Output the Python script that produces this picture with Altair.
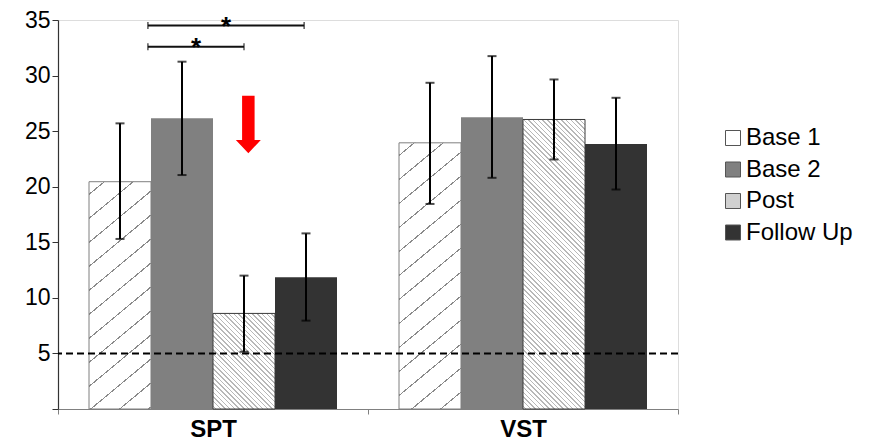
import math
import altair as alt
import pandas as pd

# ---------------- data ----------------
groups = ["SPT", "VST"]
series = ["Base 1", "Base 2", "Post", "Follow Up"]
means = {
    "SPT": [20.45, 26.15, 8.6, 11.85],
    "VST": [23.95, 26.25, 26.05, 23.85],
}
err_low = {
    "SPT": [15.3, 21.05, 5.15, 7.95],
    "VST": [18.45, 20.8, 22.45, 19.75],
}
err_high = {
    "SPT": [25.7, 31.25, 12.0, 15.8],
    "VST": [29.35, 31.75, 29.65, 28.0],
}
threshold = [5]

# significance brackets (SPT: Base 2 vs Post, Base 2 vs Follow Up)
bracket_from = [1.45, 1.45]
bracket_to = [3.0, 3.97]
bracket_level = [32.6, 34.5]
bracket_text = ["*", "*"]

# red arrow annotation
arrow_x = [3.07]
arrow_y = [25.6]

colors = ["#ffffff", "#808080", "#d0d0d0", "#333333"]

# ---------------- layout ----------------
W, H = 620, 389
Y_MAX = 35
X_MAX = 10
FONT = "Liberation Sans"
px_x = W / X_MAX
px_y = H / Y_MAX

rows = []
for gi, g in enumerate(groups):
    for si, s in enumerate(series):
        pos = gi * 5 + si + 1
        rows.append(dict(group=g, series=s, pos=pos, x0=pos - 0.5, x1=pos + 0.5,
                         mean=means[g][si], lo=err_low[g][si], hi=err_high[g][si]))
df = pd.DataFrame(rows)

xscale = alt.Scale(domain=[0, X_MAX], nice=False, zero=False)
yscale = alt.Scale(domain=[0, Y_MAX], nice=False)

label_expr = " : ".join(
    f"datum.value == {gi * 5 + 2.5} ? '{g}'" for gi, g in enumerate(groups)
) + " : ''"

x_axis = alt.Axis(
    values=[0, 2.5, 5, 7.5, 10], labelExpr=label_expr, title=None, grid=False,
    tickOpacity={"condition": {"test": "datum.value % 5 == 0", "value": 1}, "value": 0},
    tickSize=5, tickColor="#808080", domainColor="#808080", domainWidth=1.2,
    labelFontSize=24, labelFontWeight="bold", labelColor="black", labelFont=FONT,
    labelPadding=3, labelOverlap=False, labelFlush=False,
)
y_axis = alt.Axis(
    values=list(range(0, 36, 5)), labelExpr="datum.value == 0 ? '' : datum.label",
    title=None, grid=False, tickSize=6, tickColor="#333", domainColor="#333",
    domainWidth=1.2, labelFontSize=23, labelColor="black", labelFont=FONT, labelPadding=2,
)

base = alt.Chart(df)

bars = base.mark_bar().encode(
    x=alt.X("x0:Q", scale=xscale, axis=x_axis),
    x2="x1:Q",
    y=alt.Y("mean:Q", scale=yscale, axis=y_axis),
    y2=alt.datum(0),
    fill=alt.Fill(
        "series:N",
        scale=alt.Scale(domain=series, range=colors),
        sort=series,
        legend=alt.Legend(
            title=None, orient="none", legendX=663, legendY=106,
            symbolType="square", symbolSize=225, symbolStrokeColor="#555",
            symbolStrokeWidth=1, labelFontSize=24, labelFont=FONT, labelColor="black",
            labelOffset=1, rowPadding=7.5, padding=0, symbolOpacity=1,
        ),
    ),
)


def hatch(h, w, a, b, dc, thick_c, line, bg, back):
    """linear gradient drawing stripes a*x + b*y = c (back=True -> a*x - b*y = c)."""
    total = a * w + b * h
    k = total / (a * a * w * w + b * b * h * h)
    if back:
        x1, y1, x2, y2 = 0, 1, k * a * w, 1 - k * b * h
    else:
        x1, y1, x2, y2 = 0, 0, k * a * w, k * b * h
    period = dc / total
    th = thick_c / total
    stops = [{"offset": 0, "color": bg}]
    t = period * 0.5
    while t + th < 1:
        stops += [
            {"offset": round(t, 5), "color": bg},
            {"offset": round(t, 5), "color": line},
            {"offset": round(t + th, 5), "color": line},
            {"offset": round(t + th, 5), "color": bg},
        ]
        t += period
    stops.append({"offset": 1, "color": bg})
    return {"gradient": "linear", "x1": x1, "y1": y1, "x2": x2, "y2": y2, "stops": stops}


hatch_layers = []
for g in groups:
    for s, a, b, dc, thick, line, stroke, back in [
        ("Base 1", 0.83, 1.0, 24.0, 1.4, "#8a8a8a", "#7f7f7f", False),
        ("Post", 1.0, 1.0, 4.7, 1.5, "#b8b8b8", "#3a3a3a", True),
    ]:
        v = means[g][series.index(s)]
        grad = hatch(v * px_y, px_x, a, b, dc, thick, line, "#ffffff", back)
        hatch_layers.append(
            base.transform_filter(
                (alt.datum.group == g) & (alt.datum.series == s)
            ).mark_bar(fill=grad, stroke=stroke, strokeWidth=1).encode(
                x=alt.X("x0:Q", scale=xscale), x2="x1:Q",
                y=alt.Y("mean:Q", scale=yscale), y2=alt.datum(0),
            )
        )

dash = alt.Chart(pd.DataFrame({"y": threshold})).mark_rule(
    color="black", strokeWidth=2, strokeDash=[7, 4]
).encode(y=alt.Y("y:Q", scale=yscale))

err_rule = base.mark_rule(color="black", strokeWidth=2).encode(
    x=alt.X("pos:Q", scale=xscale), y=alt.Y("lo:Q", scale=yscale), y2="hi:Q"
)
err_cap_hi = base.mark_tick(color="black", orient="horizontal", size=9, thickness=2).encode(
    x=alt.X("pos:Q", scale=xscale), y=alt.Y("hi:Q", scale=yscale)
)
err_cap_lo = base.mark_tick(color="black", orient="horizontal", size=9, thickness=2).encode(
    x=alt.X("pos:Q", scale=xscale), y=alt.Y("lo:Q", scale=yscale)
)

br_df = pd.DataFrame({"x0": bracket_from, "x1": bracket_to, "y": bracket_level, "t": bracket_text})
br_df["mid"] = (br_df["x0"] + br_df["x1"]) / 2
br_ends = pd.DataFrame({
    "x": bracket_from + bracket_to,
    "y": bracket_level + bracket_level,
})
br_line = alt.Chart(br_df).mark_rule(color="#111", strokeWidth=2).encode(
    x=alt.X("x0:Q", scale=xscale), x2="x1:Q", y=alt.Y("y:Q", scale=yscale)
)
br_caps = alt.Chart(br_ends).mark_tick(color="#111", orient="vertical", size=7, thickness=1.5).encode(
    x=alt.X("x:Q", scale=xscale), y=alt.Y("y:Q", scale=yscale)
)
br_star = alt.Chart(br_df).mark_text(
    fontSize=26, fontWeight="bold", font=FONT, color="black", baseline="alphabetic", dy=9
).encode(x=alt.X("mid:Q", scale=xscale), y=alt.Y("y:Q", scale=yscale), text="t:N")

arrow_path = "M-0.5,-2.3L0.5,-2.3L0.5,1.24L1,1.24L0,2.3L-1,1.24L-0.5,1.24Z"
arrow = alt.Chart(pd.DataFrame({"x": arrow_x, "y": arrow_y})).mark_point(
    shape=arrow_path, size=625, filled=True, color="#ff0000", opacity=1, strokeWidth=0
).encode(x=alt.X("x:Q", scale=xscale), y=alt.Y("y:Q", scale=yscale))

chart = alt.layer(
    bars, *hatch_layers, dash, err_rule, err_cap_hi, err_cap_lo,
    br_line, br_caps, br_star, arrow,
).properties(
    width=W, height=H,
    autosize=alt.AutoSizeParams(type="none"),
    padding={"left": 50, "top": 12, "right": 185, "bottom": 34},
).configure_view(stroke=None).configure(background="white")

chart.save("out.html", embed_options={"renderer": "svg", "actions": False})
